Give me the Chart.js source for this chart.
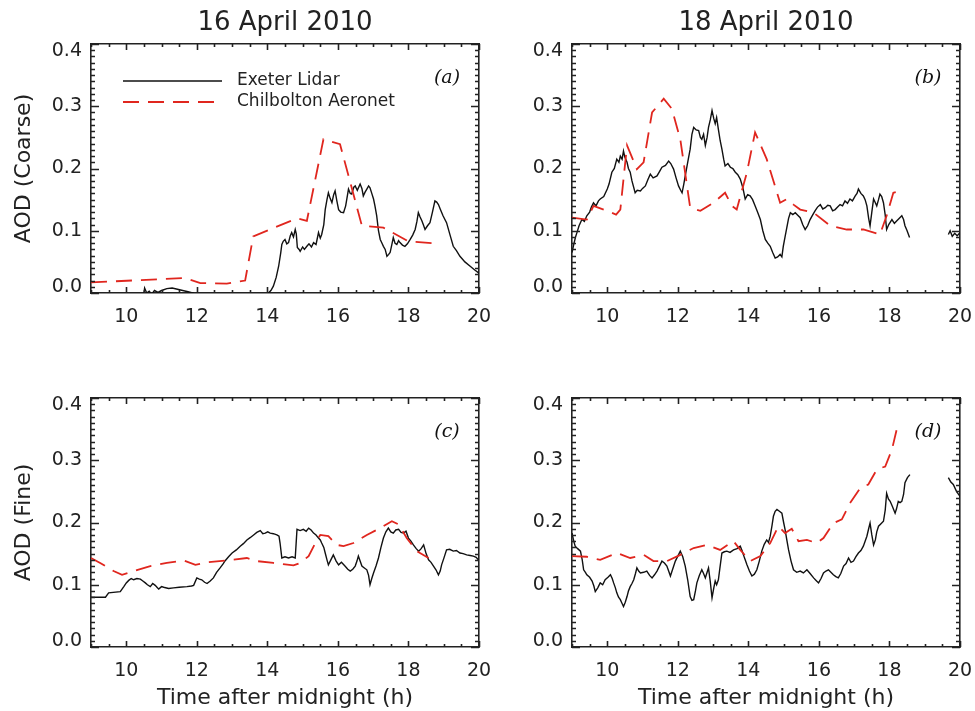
<!DOCTYPE html>
<html><head><meta charset="utf-8">
<script src="https://cdn.jsdelivr.net/npm/chart.js@4.4.1/dist/chart.umd.min.js"></script>
<style>
html,body{margin:0;padding:0;background:#fff;}
#wrap{position:relative;width:975px;height:711px;overflow:hidden;background:#fff;}
canvas{position:absolute;}
#ov{left:0;top:0;width:975px;height:711px;z-index:5;pointer-events:none;}
</style></head><body>
<div id="wrap">
<canvas id="ca" width="510" height="355" style="left:0;top:0;width:510px;height:355px"></canvas>
<canvas id="cb" width="485" height="355" style="left:490px;top:0;width:485px;height:355px"></canvas>
<canvas id="cc" width="510" height="356" style="left:0;top:355px;width:510px;height:356px"></canvas>
<canvas id="cd" width="485" height="356" style="left:490px;top:355px;width:485px;height:356px"></canvas>
<canvas id="ov" width="975" height="711"></canvas>
</div>
<script>
// ---- labels / ticks ----
const xTicks = [10, 12, 14, 16, 18, 20];
const yTicks = [0, 0.1, 0.2, 0.3, 0.4];
const dates = ['16 April 2010', '18 April 2010'];
const yTitles = ['AOD (Coarse)', 'AOD (Fine)'];
const xTitle = 'Time after midnight (h)';
const panelTags = ['(a)', '(b)', '(c)', '(d)'];
const seriesNames = ['Exeter Lidar', 'Chilbolton Aeronet'];

// ---- series: [time (h), AOD] ----
// (a) 16 April, coarse
const aLidar = [[10.45,-0.02],[10.52,0.008],[10.58,0],[10.65,0.003],[10.72,-0.002],[10.8,0.004],[10.9,0.001],[11.0,0.004],[11.15,0.007],[11.3,0.008],[11.45,0.006],[11.6,0.004],[11.75,0.002],[11.9,0],[12.0,-0.01],[13.0,null],[13.98,-0.005],[14.03,0],[14.1,0.004],[14.17,0.011],[14.25,0.025],[14.32,0.043],[14.38,0.065],[14.41,0.078],[14.45,0.083],[14.5,0.086],[14.55,0.079],[14.6,0.081],[14.65,0.092],[14.69,0.097],[14.74,0.09],[14.79,0.102],[14.82,0.095],[14.85,0.073],[14.9,0.07],[14.93,0.067],[15.0,0.074],[15.05,0.07],[15.12,0.075],[15.18,0.079],[15.25,0.074],[15.31,0.081],[15.38,0.078],[15.45,0.097],[15.5,0.088],[15.54,0.094],[15.6,0.11],[15.64,0.134],[15.69,0.15],[15.73,0.161],[15.78,0.152],[15.83,0.145],[15.88,0.158],[15.92,0.164],[15.97,0.148],[16.02,0.134],[16.08,0.13],[16.16,0.129],[16.22,0.14],[16.3,0.167],[16.35,0.16],[16.39,0.159],[16.45,0.17],[16.49,0.172],[16.55,0.165],[16.63,0.175],[16.68,0.168],[16.72,0.156],[16.77,0.162],[16.82,0.167],[16.87,0.172],[16.91,0.169],[16.96,0.16],[17.01,0.151],[17.05,0.14],[17.1,0.124],[17.15,0.1],[17.2,0.086],[17.25,0.08],[17.29,0.075],[17.34,0.07],[17.39,0.059],[17.44,0.062],[17.48,0.065],[17.53,0.078],[17.57,0.089],[17.62,0.08],[17.67,0.078],[17.72,0.084],[17.76,0.081],[17.83,0.077],[17.9,0.075],[17.97,0.079],[18.05,0.086],[18.12,0.093],[18.19,0.102],[18.24,0.115],[18.28,0.129],[18.33,0.122],[18.38,0.116],[18.42,0.11],[18.47,0.102],[18.54,0.108],[18.61,0.113],[18.68,0.13],[18.75,0.148],[18.8,0.146],[18.85,0.142],[18.9,0.135],[18.98,0.124],[19.08,0.113],[19.17,0.095],[19.27,0.075],[19.36,0.068],[19.46,0.059],[19.6,0.05],[19.75,0.043],[19.88,0.037],[20.0,0.032]];
const aAero = [[9.0,0.017],[11.67,0.024],[12.1,0.016],[12.85,0.015],[13.37,0.02],[13.6,0.091],[14.84,0.12],[15.12,0.116],[15.59,0.247],[16.06,0.239],[16.68,0.108],[17.29,0.105],[18.0,0.083],[18.7,0.08]];

// (b) 18 April, coarse
const bLidar = [[9.0,0.065],[9.05,0.078],[9.1,0.09],[9.14,0.097],[9.2,0.108],[9.28,0.118],[9.35,0.115],[9.42,0.124],[9.5,0.13],[9.55,0.138],[9.61,0.145],[9.68,0.14],[9.75,0.148],[9.8,0.151],[9.9,0.155],[10.0,0.167],[10.05,0.175],[10.13,0.194],[10.2,0.2],[10.27,0.215],[10.33,0.21],[10.37,0.22],[10.42,0.215],[10.46,0.228],[10.5,0.218],[10.56,0.21],[10.6,0.2],[10.65,0.194],[10.7,0.18],[10.79,0.161],[10.85,0.165],[10.94,0.164],[11.0,0.168],[11.08,0.172],[11.15,0.182],[11.22,0.191],[11.3,0.185],[11.41,0.188],[11.48,0.195],[11.55,0.202],[11.65,0.205],[11.74,0.212],[11.8,0.208],[11.88,0.199],[11.95,0.185],[12.02,0.172],[12.08,0.165],[12.12,0.161],[12.17,0.175],[12.21,0.188],[12.28,0.21],[12.35,0.231],[12.4,0.255],[12.45,0.266],[12.52,0.262],[12.59,0.261],[12.64,0.25],[12.68,0.247],[12.73,0.255],[12.78,0.237],[12.83,0.25],[12.87,0.266],[12.92,0.278],[12.97,0.293],[13.02,0.28],[13.06,0.272],[13.1,0.282],[13.15,0.263],[13.2,0.245],[13.25,0.231],[13.3,0.215],[13.34,0.204],[13.42,0.208],[13.49,0.202],[13.56,0.2],[13.63,0.194],[13.7,0.19],[13.77,0.183],[13.84,0.17],[13.91,0.151],[13.98,0.158],[14.05,0.156],[14.12,0.15],[14.19,0.14],[14.26,0.13],[14.34,0.118],[14.41,0.1],[14.48,0.086],[14.55,0.08],[14.62,0.075],[14.69,0.065],[14.76,0.056],[14.83,0.058],[14.9,0.062],[14.95,0.058],[14.99,0.075],[15.04,0.09],[15.09,0.105],[15.14,0.12],[15.19,0.129],[15.26,0.126],[15.33,0.129],[15.4,0.125],[15.47,0.121],[15.54,0.11],[15.61,0.102],[15.68,0.108],[15.75,0.118],[15.82,0.125],[15.89,0.132],[15.96,0.138],[16.04,0.142],[16.11,0.135],[16.18,0.137],[16.25,0.141],[16.32,0.14],[16.39,0.132],[16.46,0.134],[16.53,0.138],[16.6,0.142],[16.67,0.14],[16.74,0.148],[16.81,0.144],[16.88,0.151],[16.95,0.148],[17.03,0.156],[17.08,0.16],[17.12,0.167],[17.19,0.16],[17.26,0.156],[17.31,0.15],[17.36,0.14],[17.41,0.12],[17.45,0.108],[17.5,0.13],[17.55,0.151],[17.6,0.145],[17.64,0.14],[17.69,0.15],[17.73,0.159],[17.78,0.155],[17.83,0.145],[17.88,0.125],[17.92,0.102],[17.98,0.11],[18.07,0.118],[18.14,0.112],[18.21,0.116],[18.28,0.12],[18.35,0.124],[18.4,0.118],[18.44,0.108],[18.5,0.1],[18.57,0.089],[19.1,null],[19.67,0.094],[19.72,0.1],[19.78,0.091],[19.85,0.096],[19.92,0.092],[20.0,0.097]];
const bAero = [[9.0,0.121],[9.42,0.118],[9.61,0.14],[10.0,0.132],[10.25,0.126],[10.37,0.134],[10.56,0.237],[10.84,0.199],[11.03,0.21],[11.27,0.29],[11.6,0.312],[11.83,0.296],[12.07,0.247],[12.35,0.137],[12.64,0.132],[13.01,0.145],[13.34,0.161],[13.53,0.14],[13.67,0.134],[13.96,0.194],[14.19,0.258],[14.52,0.215],[14.9,0.145],[15.09,0.151],[15.28,0.142],[15.47,0.134],[15.85,0.129],[16.32,0.108],[16.79,0.102],[17.26,0.102],[17.73,0.094],[17.92,0.124],[18.11,0.161],[18.35,0.164]];

// (c) 16 April, fine
const cLidar = [[9.0,0.08],[9.41,0.08],[9.5,0.087],[9.83,0.089],[9.93,0.097],[10.0,0.103],[10.07,0.107],[10.14,0.11],[10.21,0.108],[10.3,0.11],[10.4,0.109],[10.47,0.106],[10.54,0.103],[10.6,0.1],[10.68,0.097],[10.75,0.102],[10.82,0.099],[10.87,0.096],[10.92,0.093],[11.0,0.097],[11.06,0.096],[11.2,0.094],[11.34,0.095],[11.5,0.096],[11.72,0.097],[11.85,0.098],[11.91,0.099],[12.0,0.111],[12.07,0.109],[12.14,0.108],[12.22,0.104],[12.29,0.102],[12.38,0.106],[12.47,0.111],[12.56,0.12],[12.66,0.127],[12.74,0.133],[12.81,0.139],[12.9,0.145],[13.0,0.151],[13.12,0.156],[13.23,0.162],[13.32,0.166],[13.42,0.172],[13.52,0.176],[13.61,0.18],[13.7,0.184],[13.8,0.187],[13.87,0.182],[13.94,0.183],[14.01,0.185],[14.08,0.183],[14.17,0.182],[14.27,0.18],[14.33,0.178],[14.36,0.167],[14.41,0.143],[14.5,0.145],[14.6,0.143],[14.7,0.145],[14.79,0.143],[14.84,0.189],[14.93,0.187],[15.02,0.189],[15.1,0.186],[15.17,0.191],[15.24,0.188],[15.31,0.183],[15.38,0.18],[15.45,0.175],[15.5,0.172],[15.54,0.167],[15.6,0.16],[15.64,0.151],[15.69,0.14],[15.73,0.132],[15.8,0.14],[15.87,0.148],[15.95,0.138],[16.02,0.132],[16.1,0.136],[16.2,0.13],[16.28,0.125],[16.35,0.122],[16.42,0.125],[16.49,0.13],[16.54,0.138],[16.58,0.146],[16.63,0.138],[16.68,0.13],[16.75,0.127],[16.82,0.124],[16.87,0.115],[16.91,0.1],[16.96,0.11],[17.01,0.119],[17.08,0.13],[17.15,0.143],[17.22,0.16],[17.29,0.175],[17.36,0.185],[17.43,0.191],[17.5,0.185],[17.57,0.183],[17.64,0.188],[17.72,0.189],[17.79,0.184],[17.86,0.183],[17.93,0.186],[18.0,0.175],[18.07,0.17],[18.14,0.164],[18.22,0.158],[18.29,0.154],[18.36,0.158],[18.43,0.164],[18.5,0.15],[18.57,0.14],[18.64,0.136],[18.71,0.13],[18.78,0.124],[18.85,0.116],[18.9,0.122],[18.94,0.132],[19.0,0.142],[19.08,0.156],[19.17,0.157],[19.27,0.154],[19.36,0.155],[19.46,0.151],[19.55,0.15],[19.65,0.148],[19.75,0.147],[19.84,0.146],[19.92,0.144],[20.0,0.139]];
const cAero = [[9.0,0.143],[9.26,0.135],[9.64,0.122],[9.88,0.116],[10.21,0.122],[10.68,0.13],[11.15,0.135],[11.63,0.139],[11.96,0.132],[12.29,0.136],[12.85,0.139],[13.42,0.143],[13.7,0.138],[14.17,0.135],[14.74,0.131],[14.93,0.135],[15.17,0.146],[15.36,0.167],[15.5,0.18],[15.73,0.178],[15.97,0.164],[16.16,0.162],[16.44,0.167],[16.82,0.18],[17.2,0.191],[17.53,0.202],[17.72,0.197],[17.95,0.175],[18.24,0.154],[18.57,0.143]];

// (d) 18 April, fine
const dLidar = [[9.0,0.183],[9.05,0.17],[9.09,0.162],[9.16,0.158],[9.24,0.154],[9.29,0.14],[9.33,0.124],[9.38,0.12],[9.42,0.116],[9.5,0.112],[9.57,0.106],[9.62,0.098],[9.66,0.089],[9.73,0.095],[9.8,0.103],[9.87,0.1],[9.94,0.108],[10.02,0.112],[10.09,0.116],[10.14,0.11],[10.18,0.103],[10.23,0.095],[10.27,0.087],[10.32,0.08],[10.37,0.076],[10.42,0.07],[10.46,0.065],[10.51,0.072],[10.56,0.081],[10.6,0.09],[10.65,0.097],[10.7,0.102],[10.75,0.108],[10.8,0.118],[10.84,0.127],[10.89,0.122],[10.94,0.119],[11.03,0.12],[11.12,0.122],[11.2,0.115],[11.27,0.111],[11.34,0.116],[11.41,0.122],[11.48,0.13],[11.55,0.138],[11.62,0.135],[11.69,0.13],[11.74,0.122],[11.79,0.114],[11.86,0.126],[11.93,0.138],[12.0,0.146],[12.07,0.154],[12.14,0.145],[12.21,0.13],[12.28,0.108],[12.35,0.081],[12.4,0.075],[12.45,0.076],[12.5,0.09],[12.54,0.103],[12.61,0.115],[12.68,0.124],[12.73,0.118],[12.78,0.111],[12.83,0.12],[12.87,0.127],[12.92,0.105],[12.97,0.079],[13.02,0.095],[13.06,0.106],[13.1,0.1],[13.15,0.108],[13.2,0.13],[13.25,0.151],[13.32,0.153],[13.39,0.154],[13.48,0.152],[13.58,0.156],[13.68,0.158],[13.77,0.162],[13.82,0.155],[13.86,0.148],[13.91,0.14],[13.96,0.132],[14.03,0.122],[14.1,0.114],[14.17,0.117],[14.24,0.124],[14.31,0.138],[14.38,0.154],[14.45,0.165],[14.52,0.172],[14.57,0.168],[14.62,0.178],[14.67,0.195],[14.71,0.21],[14.76,0.218],[14.81,0.221],[14.88,0.218],[14.95,0.215],[15.0,0.2],[15.04,0.189],[15.09,0.172],[15.14,0.156],[15.21,0.138],[15.28,0.124],[15.37,0.12],[15.47,0.122],[15.56,0.119],[15.66,0.124],[15.75,0.118],[15.85,0.111],[15.92,0.107],[15.99,0.103],[16.06,0.11],[16.13,0.119],[16.2,0.122],[16.27,0.124],[16.34,0.12],[16.41,0.116],[16.48,0.113],[16.55,0.111],[16.62,0.118],[16.7,0.13],[16.77,0.134],[16.84,0.143],[16.91,0.136],[16.98,0.138],[17.05,0.145],[17.12,0.151],[17.19,0.155],[17.26,0.162],[17.31,0.17],[17.36,0.178],[17.41,0.19],[17.45,0.199],[17.5,0.18],[17.55,0.164],[17.6,0.172],[17.64,0.185],[17.69,0.194],[17.76,0.198],[17.83,0.202],[17.88,0.22],[17.92,0.247],[17.97,0.238],[18.02,0.234],[18.09,0.225],[18.16,0.215],[18.2,0.222],[18.25,0.234],[18.3,0.232],[18.35,0.234],[18.4,0.245],[18.44,0.264],[18.51,0.272],[18.58,0.277],[19.1,null],[19.67,0.272],[19.74,0.265],[19.81,0.261],[19.9,0.25],[20.0,0.242]];
const dAero = [[9.0,0.146],[9.42,0.145],[9.8,0.14],[10.27,0.151],[10.65,0.143],[11.03,0.148],[11.31,0.138],[11.69,0.138],[12.07,0.148],[12.45,0.159],[12.82,0.164],[13.2,0.156],[13.58,0.17],[13.77,0.156],[14.05,0.138],[14.34,0.146],[14.62,0.167],[14.85,0.194],[15.04,0.183],[15.23,0.19],[15.42,0.17],[15.66,0.172],[15.94,0.167],[16.13,0.175],[16.41,0.199],[16.65,0.205],[16.88,0.231],[17.17,0.255],[17.4,0.261],[17.64,0.285],[17.88,0.29],[18.07,0.317],[18.25,0.36]];

Chart.defaults.font.family = "'DejaVu Sans', sans-serif";
const INK = '#222';
const X_MIN = 9, X_MAX = 20, Y_MIN = 0, Y_MAX = 0.4;
const xMinorStep = 0.5, yMinorStep = 0.01;
const TICK_PX = {xMajor: 6, xMinor: 3, yMajor: 8, yMinor: 4};

const labelShiftPlugin = {
  id: 'labelShift',
  beforeDraw(chart) {
    try {
      const items = chart.scales.y.getLabelItems();
      items.forEach(it => {
        if (it.label === '0.0') it.options.translation[1] -= 6;
        if (it.label === '0.4') it.options.translation[1] += 7;
      });
    } catch (e) {}
  }
};

const annotPlugin = {
  id: 'annot',
  afterDraw(chart, args, opts) {
    const ctx = chart.ctx, a = chart.chartArea;
    ctx.save();
    ctx.fillStyle = '#111';
    ctx.font = "italic 19px 'DejaVu Serif'";
    ctx.textAlign = 'center'; ctx.textBaseline = 'middle';
    ctx.fillText(opts.tag, a.right - 32, a.top + 34);
    if (opts.legend) {
      ctx.font = "17px 'DejaVu Sans'";
      ctx.textAlign = 'left';
      chart.data.datasets.filter(ds => seriesNames.includes(ds.label)).forEach((ds, i) => {
        const yy = a.top + 37 + i * 21;
        ctx.strokeStyle = ds.borderColor; ctx.lineWidth = ds.borderWidth;
        ctx.setLineDash(ds.borderDash || []);
        ctx.beginPath(); ctx.moveTo(a.left + 32, yy); ctx.lineTo(a.left + 131, yy); ctx.stroke();
        ctx.setLineDash([]);
        ctx.fillStyle = INK;
        ctx.fillText(ds.label, a.left + 146, yy);
      });
    }
    ctx.restore();
  }
};

const pts = P => P.map(p => ({x: p[0], y: p[1]}));

function panel(id, o) {
  const W = o.w, H = o.h, ca = o.area;
  const border = {display: true, color: INK, width: 1.6};
  return new Chart(document.getElementById(id), {
    type: 'line',
    data: {datasets: [
      {label: seriesNames[0], data: pts(o.lidar), borderColor: '#111', borderWidth: 1.4,
       pointRadius: 0, tension: 0, spanGaps: false, order: 2},
      {label: seriesNames[1], data: pts(o.aero), borderColor: '#e0261e', borderWidth: 1.8,
       borderDash: [16, 9], pointRadius: 0, tension: 0, spanGaps: false, order: 1}
    ]},
    options: {
      responsive: false, animation: false, devicePixelRatio: 1,
      layout: {padding: 0},
      plugins: {legend: {display: false}, tooltip: {enabled: false},
                annot: {tag: o.tag, legend: !!o.legend}},
      scales: {
        x: {type: 'linear', position: 'bottom', min: X_MIN, max: X_MAX,
          afterBuildTicks: s => { s.ticks = xTicks.map(v => ({value: v})); },
          ticks: {font: {size: 19}, color: INK, padding: 13, maxRotation: 0, autoSkip: false},
          grid: {display: false, drawTicks: false}, border: border,
          title: {display: !!o.xTitle, text: xTitle, font: {size: 22}, color: INK, padding: {top: 0, bottom: 0}},
          afterFit: s => { s.height = H - ca.b; s.paddingLeft = 0; s.paddingRight = 0; }},
        x2: {type: 'linear', position: 'top', min: X_MIN, max: X_MAX,
          ticks: {display: false}, grid: {display: false, drawTicks: false}, border: border,
          title: {display: !!o.date, text: o.date || '', font: {size: 26}, color: INK, padding: {top: 8, bottom: 0}},
          afterFit: s => { s.height = ca.t; s.paddingLeft = 0; s.paddingRight = 0; }},
        y: {type: 'linear', position: 'left', min: Y_MIN, max: Y_MAX,
          afterBuildTicks: s => { s.ticks = yTicks.map(v => ({value: v})); },
          ticks: {font: {size: 19}, color: INK, padding: 9, callback: v => v.toFixed(1)},
          grid: {display: false, drawTicks: false}, border: border,
          title: {display: !!o.yTitle, text: o.yTitle || '', font: {size: 22}, color: INK, padding: {top: 11, bottom: 0}},
          afterFit: s => { s.width = ca.l; s.paddingTop = 0; s.paddingBottom = 0; }},
        y2: {type: 'linear', position: 'right', min: Y_MIN, max: Y_MAX,
          ticks: {display: false}, grid: {display: false, drawTicks: false}, border: border,
          afterFit: s => { s.width = W - ca.r; s.paddingTop = 0; s.paddingBottom = 0; }}
      }
    },
    plugins: [labelShiftPlugin, annotPlugin]
  });
}

const panels = [
  {id: 'ca', left: 0, top: 0, w: 510, h: 355, area: {l: 91, t: 44, r: 479, b: 293}, date: dates[0], yTitle: yTitles[0], tag: panelTags[0], legend: true, lidar: aLidar, aero: aAero},
  {id: 'cb', left: 490, top: 0, w: 485, h: 355, area: {l: 82, t: 44, r: 470, b: 293}, date: dates[1], tag: panelTags[1], lidar: bLidar, aero: bAero},
  {id: 'cc', left: 0, top: 355, w: 510, h: 356, area: {l: 91, t: 43, r: 479, b: 292}, yTitle: yTitles[1], xTitle: true, tag: panelTags[2], lidar: cLidar, aero: cAero},
  {id: 'cd', left: 490, top: 355, w: 485, h: 356, area: {l: 82, t: 43, r: 470, b: 292}, xTitle: true, tag: panelTags[3], lidar: dLidar, aero: dAero}
];
const charts = panels.map(p => panel(p.id, p));

// inward IDL-style axis ticks on an overlay, placed through each chart's own scales
(function drawTicks() {
  const g = document.getElementById('ov').getContext('2d');
  g.strokeStyle = INK; g.lineWidth = 1.6; g.setLineDash([]);
  g.beginPath();
  charts.forEach((chart, i) => {
    const off = panels[i];
    const x = chart.scales.x, y = chart.scales.y, a = chart.chartArea;
    const L0 = off.left + a.left, R0 = off.left + a.right, T0 = off.top + a.top, B0 = off.top + a.bottom;
    const nx = Math.round((X_MAX - X_MIN) / xMinorStep);
    for (let k = 0; k <= nx; k++) {
      const h = X_MIN + k * xMinorStep;
      const px = off.left + Math.round(x.getPixelForValue(h)) + 0.5;
      const L = xTicks.some(t => Math.abs(t - h) < 1e-6) ? TICK_PX.xMajor : TICK_PX.xMinor;
      g.moveTo(px, B0); g.lineTo(px, B0 - L);
      g.moveTo(px, T0); g.lineTo(px, T0 + L);
    }
    const ny = Math.round((Y_MAX - Y_MIN) / yMinorStep);
    for (let k = 0; k <= ny; k++) {
      const v = Y_MIN + k * yMinorStep;
      const py = off.top + Math.round(y.getPixelForValue(v)) + 0.5;
      const L = yTicks.some(t => Math.abs(t - v) < 1e-6) ? TICK_PX.yMajor : TICK_PX.yMinor;
      g.moveTo(L0, py); g.lineTo(L0 + L, py);
      g.moveTo(R0, py); g.lineTo(R0 - L, py);
    }
  });
  g.stroke();
})();
</script>
</body></html>
